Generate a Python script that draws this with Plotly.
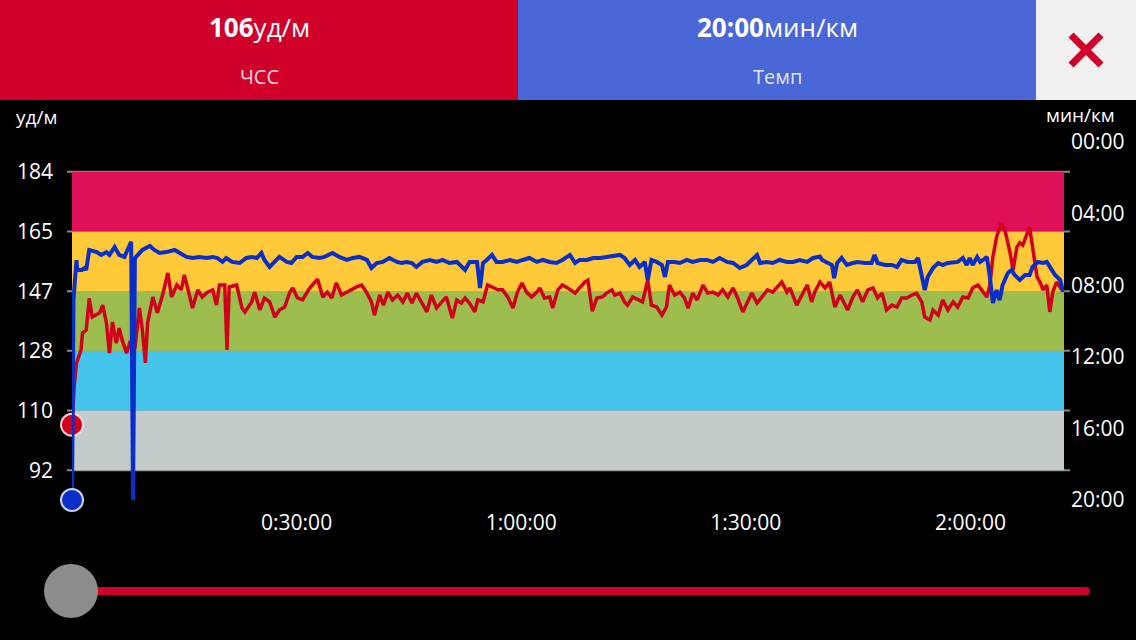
import plotly.graph_objects as go

W, H = 1136, 640

# heart rate (bpm) against elapsed time (minutes)
hr_time = [0, 0.3, 0.6, 1.0, 1.2, 1.4, 1.9, 2.3, 2.7, 3.7,
           4.1, 4.6, 5.0, 5.4, 5.9, 6.3, 6.7, 7.3, 7.7, 8.4,
           9.0, 9.4, 9.8, 10.1, 10.8, 11.4, 12.1, 12.8, 13.3, 14.0,
           14.6, 15.0, 15.7, 16.1, 16.8, 17.4, 18.1, 18.8, 19.3, 19.7,
           20.4, 20.7, 21.0, 22.0, 22.7, 23.1, 24.0, 24.4, 25.1, 25.7,
           26.4, 27.1, 27.7, 28.4, 29.1, 29.5, 30.1, 30.8, 31.7, 32.8,
           33.5, 34.1, 34.7, 35.3, 36.0, 36.7, 37.4, 38.0, 38.7, 39.4,
           40.0, 40.4, 41.1, 41.6, 42.2, 42.8, 43.5, 44.2, 44.8, 45.4,
           46.0, 46.7, 47.4, 48.0, 48.7, 49.4, 50.0, 50.8, 51.4, 52.0,
           52.5, 53.1, 53.8, 54.2, 54.9, 55.5, 56.2, 56.9, 57.5, 58.2,
           58.9, 59.5, 60.1, 60.7, 61.4, 62.1, 62.5, 63.1, 63.8, 64.2,
           64.9, 65.5, 66.2, 67.2, 67.8, 68.5, 68.9, 69.5, 70.1, 70.8,
           71.4, 72.1, 72.5, 73.2, 73.8, 74.2, 74.9, 75.6, 76.2, 76.9,
           77.4, 78.1, 78.8, 79.4, 79.8, 80.5, 81.2, 81.8, 82.3, 82.9,
           83.5, 84.3, 84.9, 85.6, 86.3, 86.9, 87.6, 88.3, 88.9, 89.6,
           90.3, 90.8, 91.5, 92.1, 92.9, 93.6, 94.3, 94.8, 95.5, 95.9,
           96.8, 97.5, 98.2, 98.8, 99.2, 99.9, 100.6, 101.2, 101.9, 102.6,
           102.9, 103.6, 104.3, 104.9, 105.6, 106.3, 107.0, 107.6, 108.2, 108.8,
           109.5, 110.2, 110.8, 111.5, 112.2, 112.8, 113.5, 113.9, 114.6, 115.0,
           115.7, 116.3, 117.0, 117.7, 118.3, 119.0, 119.7, 120.3, 121.0, 121.7,
           122.2, 122.6, 123.0, 123.5, 124.1, 124.6, 125.3, 125.7, 126.2, 126.6,
           127.0, 127.5, 127.9, 128.3, 128.9, 129.3, 129.7, 130.2, 130.6, 131.0,
           131.5, 132.2]
hr = [106, 118, 125, 128, 129, 134.3, 135.2, 145, 139.2, 140.5,
      142.9, 137.4, 128.1, 137.7, 131.2, 135.8, 132.1, 128.1, 131.2, 129.5,
      142.0, 135.2, 125.1, 137.4, 145.4, 140.5, 146.0, 152.8, 145.4, 149.1,
      147.6, 152.2, 145.4, 142.0, 147.6, 145.4, 146.9, 147.6, 142.9, 149.1,
      149.1, 129.1, 148.5, 149.1, 142.0, 140.8, 143.9, 146.9, 141.4, 145.1,
      143.9, 139.2, 141.4, 142.3, 146.9, 148.2, 145.1, 144.5, 148.0, 150.9,
      145.4, 146.9, 145.1, 149.7, 146.0, 146.9, 147.6, 148.5, 149.1, 146.6,
      143.9, 139.8, 146.0, 142.9, 146.9, 144.5, 146.0, 143.9, 146.6, 143.5,
      146.6, 143.9, 140.8, 146.0, 142.0, 143.9, 145.4, 138.9, 144.5, 143.5,
      145.1, 143.5, 140.8, 144.5, 143.9, 149.1, 148.2, 147.6, 147.6, 145.4,
      142.0, 146.9, 149.7, 146.9, 145.4, 146.9, 148.2, 145.1, 145.4, 142.0,
      147.6, 149.1, 148.2, 146.6, 148.2, 150.0, 150.6, 141.0, 145.1, 145.4,
      146.6, 147.6, 146.0, 146.6, 143.9, 142.9, 145.4, 144.5, 143.9, 150.6,
      142.9, 142.3, 139.8, 142.3, 149.1, 146.0, 146.9, 145.1, 142.0, 146.6,
      144.5, 149.1, 146.6, 146.9, 146.0, 147.6, 145.4, 148.2, 145.1, 140.8,
      144.5, 146.6, 143.5, 145.4, 147.6, 146.9, 148.5, 150.0, 146.9, 148.2,
      142.9, 146.0, 149.1, 143.9, 146.9, 150.0, 148.2, 150.0, 142.3, 146.0,
      144.5, 141.4, 145.4, 147.6, 143.9, 147.6, 148.2, 145.1, 146.6, 141.4,
      142.9, 142.3, 145.1, 145.1, 146.0, 146.6, 143.9, 139.2, 138.3, 141.4,
      139.8, 144.5, 141.4, 143.9, 142.3, 145.4, 145.1, 148.2, 149.1, 146.9,
      145.4, 149.1, 157.7, 163.9, 168.2, 166.1, 159.0, 153.7, 160.8, 162.1,
      161.4, 164.5, 167.0, 160.8, 151.6, 150.0, 147.6, 149.1, 140.8, 146.9,
      150.0, 147.6]

# pace (minutes per km) against elapsed time (minutes)
pace_time = [0, 0.2, 0.6, 0.7, 1.3, 1.7, 1.9, 2.3, 3.3, 3.9,
             4.6, 5.0, 5.7, 6.3, 7.0, 7.7, 7.9, 8.15, 8.4, 8.8,
             9.4, 10.4, 11.0, 11.7, 12.6, 13.7, 14.4, 15.3, 16.1, 17.0,
             18.0, 18.8, 19.4, 20.1, 20.6, 21.4, 22.4, 23.3, 24.0, 24.7,
             25.3, 25.7, 26.4, 27.1, 27.7, 28.7, 29.3, 30.0, 30.8, 31.5,
             32.1, 33.1, 33.7, 34.8, 35.7, 36.7, 37.5, 38.4, 39.4, 40.0,
             40.7, 41.5, 42.4, 43.4, 44.0, 44.7, 45.4, 46.0, 46.8, 47.8,
             48.7, 49.5, 50.4, 51.4, 52.0, 52.5, 53.1, 54.1, 54.5, 54.9,
             55.4, 56.1, 56.7, 57.5, 58.5, 59.4, 60.2, 61.1, 62.1, 62.9,
             63.8, 64.7, 65.5, 66.5, 67.2, 67.8, 68.8, 69.6, 70.5, 71.4,
             72.2, 73.2, 73.8, 74.5, 75.2, 75.8, 76.5, 76.9, 77.4, 78.1,
             78.8, 79.2, 79.6, 80.5, 81.2, 82.1, 82.9, 83.9, 84.8, 85.6,
             86.5, 87.5, 88.3, 89.2, 90.1, 90.8, 91.5, 91.9, 92.8, 93.6,
             94.5, 95.5, 96.3, 97.2, 98.2, 99.0, 99.9, 100.2, 100.8, 101.5,
             101.8, 102.2, 102.8, 103.5, 104.3, 104.9, 105.9, 106.8, 107.2, 107.6,
             108.6, 109.5, 110.2, 110.8, 111.6, 112.6, 113.0, 113.5, 113.9, 114.3,
             115.0, 115.7, 116.3, 117.0, 117.7, 118.3, 119.0, 119.5, 119.9, 120.3,
             120.9, 121.3, 121.7, 122.2, 122.6, 123.0, 123.5, 123.9, 124.3, 125.0,
             125.5, 125.9, 126.6, 127.3, 127.9, 128.3, 129.0, 129.7, 130.2, 130.6,
             131.3, 132.0, 132.4]
pace = [20.0, 8.8, 6.6, 7.15, 7.15, 7.04, 7.15, 6.03, 6.15, 6.31,
        6.15, 6.31, 5.87, 6.31, 6.42, 5.8, 5.57, 20.0, 6.48, 6.31,
        6.03, 5.81, 6.03, 6.20, 6.15, 6.03, 6.20, 6.42, 6.48, 6.42,
        6.48, 6.42, 6.48, 6.70, 6.48, 6.70, 6.76, 6.48, 6.42, 6.48,
        6.20, 6.59, 6.98, 6.70, 6.42, 6.70, 6.76, 6.42, 6.42, 6.20,
        6.42, 6.48, 6.42, 6.20, 6.42, 6.59, 6.48, 6.42, 6.59, 7.04,
        6.76, 6.70, 6.48, 6.70, 6.76, 6.70, 6.76, 6.98, 6.70, 6.59,
        6.70, 6.59, 6.76, 6.70, 6.98, 7.15, 6.70, 6.70, 8.16, 6.76,
        6.59, 6.31, 6.70, 6.70, 6.59, 6.70, 6.59, 6.48, 6.70, 6.59,
        6.70, 6.76, 6.59, 6.31, 6.76, 6.59, 6.59, 6.48, 6.48, 6.42,
        6.42, 6.31, 6.48, 6.87, 6.59, 6.98, 6.70, 7.71, 6.59, 6.70,
        6.87, 7.54, 6.70, 6.70, 6.76, 6.59, 6.70, 6.59, 6.59, 6.70,
        6.48, 6.70, 6.76, 7.04, 6.87, 6.59, 6.31, 6.76, 6.70, 6.76,
        6.59, 6.70, 6.70, 6.59, 6.70, 6.48, 6.40, 6.59, 6.70, 6.87,
        7.60, 6.76, 6.48, 6.87, 6.76, 6.70, 6.76, 6.76, 6.31, 6.76,
        6.87, 6.87, 6.98, 6.59, 6.70, 6.70, 6.48, 7.54, 8.27, 7.54,
        7.04, 6.76, 6.87, 6.76, 6.70, 6.70, 6.48, 6.87, 6.48, 6.87,
        6.42, 6.70, 6.59, 6.42, 7.54, 8.99, 8.27, 8.83, 7.99, 7.32,
        7.15, 7.43, 7.71, 7.43, 7.43, 6.98, 6.70, 6.76, 6.70, 6.98,
        7.43, 7.71, 8.38]

# heart rate zones (bpm) and their colours
max_hr = 184
zone_edges = [92, 110.4, 128.8, 147.2, 165.6, 184]
zone_labels = ["92", "110", "128", "147", "165", "184"]
zone_colors = ["#c4cbcb", "#45c4ec", "#9dbe4e", "#ffc93a", "#df105a"]

pace_ticks = [0, 4, 8, 12, 16, 20]
pace_labels = ["00:00", "04:00", "08:00", "12:00", "16:00", "20:00"]
time_ticks = [30, 60, 90, 120]
time_labels = ["0:30:00", "1:00:00", "1:30:00", "2:00:00"]

RED = "#d0002a"
BLUE = "#4a67d8"
FONT = "Open Sans"


def px(x):
    return x / W


def py(y):
    return 1 - y / H


fig = go.Figure()

fig.add_trace(go.Scatter(x=hr_time, y=hr, mode="lines",
                         line=dict(color="#d0021b", width=3.5), yaxis="y"))
fig.add_trace(go.Scatter(x=pace_time, y=pace, mode="lines", cliponaxis=False,
                         line=dict(color="#0a2fc8", width=4), yaxis="y2"))
fig.add_trace(go.Scatter(x=[hr_time[0]], y=[hr[0]], mode="markers", cliponaxis=False,
                         marker=dict(size=22, color="#d0021b",
                                     line=dict(color="rgba(255,225,230,0.9)", width=2)),
                         yaxis="y"))
fig.add_trace(go.Scatter(x=[pace_time[0]], y=[pace[0]], mode="markers", cliponaxis=False,
                         marker=dict(size=22, color="#0a2fc8",
                                     line=dict(color="rgba(225,230,255,0.9)", width=2)),
                         yaxis="y2"))

shapes = []
for lo, hi, c in zip(zone_edges[:-1], zone_edges[1:], zone_colors):
    shapes.append(dict(type="rect", xref="x", yref="y", x0=0, x1=132.5, y0=lo, y1=hi,
                       fillcolor=c, line=dict(width=0), layer="below"))
for e in zone_edges:
    shapes.append(dict(type="line", xref="paper", yref="y", x0=px(67), x1=px(1070),
                       y0=e, y1=e, line=dict(color="#8a8a8a", width=2), layer="below"))

# header panels
shapes.append(dict(type="rect", xref="paper", yref="paper", x0=0, x1=px(518),
                   y0=py(100), y1=1, fillcolor=RED, line=dict(width=0)))
shapes.append(dict(type="rect", xref="paper", yref="paper", x0=px(518), x1=px(1036),
                   y0=py(100), y1=1, fillcolor=BLUE, line=dict(width=0)))
shapes.append(dict(type="rect", xref="paper", yref="paper", x0=px(1036), x1=1,
                   y0=py(100), y1=1, fillcolor="#f0f0f0", line=dict(width=0)))
shapes.append(dict(type="line", xref="paper", yref="paper", x0=px(1071), x1=px(1101),
                   y0=py(35), y1=py(65), line=dict(color=RED, width=7)))
shapes.append(dict(type="line", xref="paper", yref="paper", x0=px(1071), x1=px(1101),
                   y0=py(65), y1=py(35), line=dict(color=RED, width=7)))

# slider
shapes.append(dict(type="line", xref="paper", yref="paper", x0=px(95), x1=px(1086),
                   y0=py(591), y1=py(591), line=dict(color=RED, width=8)))
shapes.append(dict(type="circle", xref="paper", yref="paper", x0=px(1082), x1=px(1090),
                   y0=py(595), y1=py(587), fillcolor=RED, line=dict(width=0)))
shapes.append(dict(type="circle", xref="paper", yref="paper", x0=px(44), x1=px(98),
                   y0=py(618), y1=py(564), fillcolor="#8c8c8c", line=dict(width=0)))

annotations = [
    dict(text="<b>106</b>уд/м", x=px(259), y=py(27), font=dict(size=26, color="white")),
    dict(text="ЧСС", x=px(259), y=py(76), font=dict(size=20, color="rgba(255,255,255,0.85)")),
    dict(text="<b>20:00</b>мин/км", x=px(777), y=py(27), font=dict(size=26, color="white")),
    dict(text="Темп", x=px(777), y=py(76), font=dict(size=20, color="rgba(255,255,255,0.85)")),
    dict(text="уд/м", x=px(36), y=py(117), font=dict(size=19, color="white")),
    dict(text="мин/км", x=px(1080), y=py(115), font=dict(size=19, color="white")),
]
for a in annotations:
    a.update(xref="paper", yref="paper", showarrow=False, xanchor="center", yanchor="middle")

fig.update_layout(
    width=W, height=H,
    margin=dict(l=0, r=0, t=0, b=0, autoexpand=False),
    paper_bgcolor="black", plot_bgcolor="black",
    font=dict(family=FONT, color="white"),
    showlegend=False,
    shapes=shapes,
    annotations=annotations,
    xaxis=dict(domain=[px(72), px(1064)], range=[0, 132.5], tickvals=time_ticks,
               ticktext=time_labels, showgrid=False, zeroline=False, showline=False,
               automargin=False, tickfont=dict(size=21, color="white"),
               ticklabelstandoff=8),
    yaxis=dict(domain=[py(500), py(142)], range=[max_hr * 0.45, max_hr * 1.05],
               tickvals=zone_edges, ticktext=zone_labels, showgrid=False, zeroline=False,
               showline=False, ticks="", automargin=False,
               tickfont=dict(size=21, color="white"), ticklabelstandoff=18),
    yaxis2=dict(overlaying="y", side="right", range=[20, 0], tickvals=pace_ticks,
                ticktext=pace_labels, showgrid=False, zeroline=False, showline=False,
                automargin=False, tickfont=dict(size=21, color="white"),
                ticklabelstandoff=6),
)

fig.write_html("out.html", config={"displayModeBar": False},
               post_script="document.body.style.margin='0';document.body.style.background='black';")
